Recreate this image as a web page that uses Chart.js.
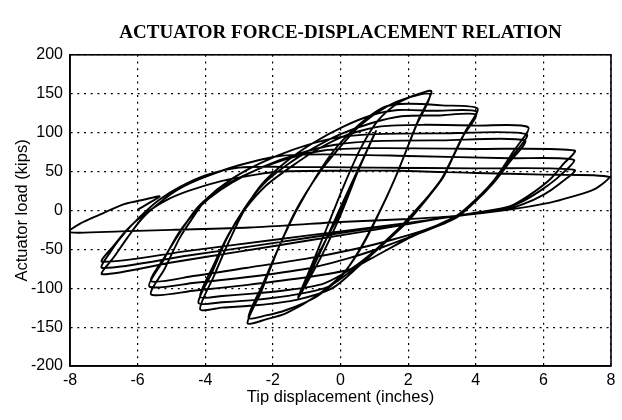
<!DOCTYPE html>
<html>
<head>
<meta charset="utf-8">
<script src="https://cdn.jsdelivr.net/npm/chart.js@4.4.1/dist/chart.umd.min.js"></script>
<style>
  html, body { margin: 0; padding: 0; background: #fff; }
</style>
</head>
<body>
<canvas id="hystChart" width="622" height="420"></canvas>
<script>
// tick labels
const xTicks = [-8, -6, -4, -2, 0, 2, 4, 6, 8];
const yTicks = [-200, -150, -100, -50, 0, 50, 100, 150, 200];

// [tip displacement (in), actuator load (kips)], in load order
const elasticCycles = [
  [0, 0], [0.5, 49], [1.0, 98],
  [0.6, 60], [0, 4], [-0.6, -54], [-1.2, -108],
  [-0.7, -60], [0, -2], [0.6, 60], [1.05, 102],
  [0.55, 54], [0, -6], [-0.6, -62], [-1.25, -112]
];

const cycles27 = [
  [-0.85, -70], [-0.4, -22], [0.1, 32], [0.6, 80], [1.1, 115], [1.7, 138], [2.2, 148], [2.69, 153],
  [2.3, 116], [1.65, 45], [1.06, -11], [0.56, -52], [0.06, -82], [-0.72, -110], [-1.6, -132], [-2.2, -140], [-2.75, -145],
  [-2.35, -105], [-1.85, -50], [-1.31, 1], [-0.6, 50], [0, 82], [0.6, 110], [1.35, 133], [2.0, 145], [2.65, 149],
  [2.25, 110], [1.6, 40], [1.0, -15], [0.5, -55], [0, -86], [-0.75, -112], [-1.6, -128], [-2.2, -135], [-2.72, -138]
];

const cycles4 = [
  [-2.3, -95], [-1.8, -45], [-1.3, 0], [-0.7, 45], [-0.1, 82], [0.6, 112], [1.3, 133], [2.0, 137], [3.0, 135], [4.05, 131],
  [3.7, 102], [3.3, 66], [3.03, 42], [2.5, 12], [1.95, -16], [1.2, -46], [0.56, -71], [-0.24, -100], [-1.3, -115], [-2.5, -122], [-3.5, -125], [-4.15, -127],
  [-3.75, -85], [-3.3, -40], [-2.85, 0], [-2.3, 35], [-1.6, 63], [-0.8, 87], [0.1, 108], [0.9, 122], [1.7, 129], [2.8, 128], [4.02, 127],
  [3.65, 98], [3.25, 62], [2.95, 38], [2.4, 8], [1.85, -20], [1.1, -50], [0.45, -73], [-0.35, -98], [-1.3, -108], [-2.5, -115], [-3.5, -118], [-4.2, -119],
  [-3.8, -80], [-3.35, -35], [-2.85, 2], [-2.3, 33], [-1.6, 58], [-0.8, 80], [0, 98], [0.9, 112], [1.8, 121], [2.9, 122], [4.0, 123],
  [3.6, 94], [3.2, 58], [2.9, 34], [2.3, 4], [1.75, -22], [1.0, -52], [0.35, -74], [-0.5, -94], [-1.5, -102], [-2.6, -107], [-3.5, -110], [-4.15, -111]
];

const cycles55 = [
  [-3.75, -70], [-3.3, -30], [-2.8, 3], [-2.2, 32], [-1.5, 55], [-0.7, 78], [0.2, 97], [1.2, 108], [2.5, 110], [4.0, 109], [5.55, 107],
  [5.1, 75], [4.56, 40], [4.0, 14], [3.43, -7], [2.05, -35], [0.9, -62], [0.27, -76], [-1.0, -86], [-2.8, -96], [-4.3, -103], [-5.6, -108],
  [-5.2, -75], [-4.75, -35], [-4.3, -5], [-3.98, 14], [-3.3, 38], [-2.4, 60], [-1.4, 78], [-0.3, 92], [1.0, 98], [3.0, 99], [5.5, 98],
  [5.05, 68], [4.55, 38], [4.05, 14], [3.4, -10], [2.3, -30], [1.2, -48], [0.2, -62], [-1.0, -75], [-2.8, -86], [-4.3, -93], [-5.65, -98],
  [-5.25, -65], [-4.8, -30], [-4.3, -2], [-3.9, 15], [-3.2, 36], [-2.3, 56], [-1.3, 72], [-0.2, 84], [1.0, 89], [3.0, 90], [5.45, 90],
  [5.0, 62], [4.5, 34], [4.0, 12], [3.35, -10], [2.5, -25], [1.5, -38], [0.4, -50], [-1.0, -62], [-2.8, -74], [-4.3, -84], [-5.6, -91]
];

const cycles7 = [
  [-5.2, -60], [-4.7, -25], [-4.2, 5], [-3.5, 30], [-2.6, 50], [-1.6, 66], [-0.5, 77], [1.0, 80], [4.0, 79], [6.92, 77],
  [6.6, 60], [6.2, 40], [5.6, 20], [5.0, 5], [4.0, -3], [3.0, -10], [1.0, -25], [-1.0, -39], [-3.0, -53], [-5.0, -67], [-7.05, -82],
  [-6.7, -60], [-6.3, -35], [-5.9, -12], [-5.35, 10], [-4.76, 28], [-4.0, 43], [-3.0, 58], [-1.8, 70], [-0.5, 72], [2.0, 70], [5.0, 67], [6.9, 65],
  [6.5, 45], [6.0, 28], [5.4, 12], [4.8, 2], [3.5, -7], [2.0, -16], [0, -29], [-2.0, -42], [-4.5, -58], [-7.05, -74],
  [-6.75, -50], [-6.4, -30], [-5.95, -9], [-5.35, 14], [-4.76, 30], [-4.0, 45], [-3.0, 55], [-1.8, 56], [1.0, 55], [4.0, 54], [6.92, 52],
  [6.5, 35], [6.0, 20], [5.4, 8], [4.8, 0], [3.5, -7], [2.0, -16], [0, -27], [-2.0, -38], [-4.5, -52], [-7.05, -66]
];

const cycles8 = [
  [-6.7, -45], [-6.3, -24], [-5.8, -5], [-5.2, 12], [-4.5, 25], [-3.5, 38], [-2.5, 46], [-1.8, 50], [0, 51], [1.75, 51], [4.0, 48], [6.0, 46], [7.95, 43],
  [7.5, 27], [6.8, 17], [6.2, 10], [5.0, 1], [3.43, -7], [2.0, -11], [0, -15], [-2.7, -22], [-5.0, -25], [-6.5, -27], [-8.05, -28],
  [-7.7, -17], [-7.2, -7], [-6.4, 8], [-5.8, 14], [-5.35, 18], [-6.0, 1]
];

const points = [...elasticCycles, ...cycles27, ...cycles4, ...cycles55, ...cycles7, ...cycles8]
  .map(p => ({ x: p[0], y: p[1] }));

const sans = '"Liberation Sans", Arial, Helvetica, sans-serif';

const frameBox = {
  id: 'frameBox',
  afterDraw(chart) {
    const { ctx, chartArea: a } = chart;
    ctx.save();
    ctx.strokeStyle = '#000';
    ctx.lineWidth = 1.6;
    ctx.strokeRect(a.left, a.top, a.right - a.left, a.bottom - a.top);
    ctx.restore();
  }
};

const ctx = document.getElementById('hystChart').getContext('2d');
new Chart(ctx, {
  type: 'scatter',
  data: {
    datasets: [{
      label: 'Actuator load',
      data: points,
      showLine: true,
      borderColor: '#000',
      borderWidth: 1.9,
      pointRadius: 0,
      tension: 0.25,
      fill: false
    }]
  },
  options: {
    responsive: false,
    animation: false,
    layout: { padding: { top: 0, right: 11, bottom: 0, left: 0 } },
    plugins: {
      legend: { display: false },
      tooltip: { enabled: false },
      title: {
        display: true,
        fullSize: false,
        text: 'ACTUATOR FORCE-DISPLACEMENT RELATION',
        color: '#000',
        font: { family: '"Liberation Serif", "Times New Roman", serif', size: 19, weight: 'bold' },
        padding: { top: 22, bottom: 10 }
      }
    },
    scales: {
      x: {
        type: 'linear',
        min: -8,
        max: 8,
        afterBuildTicks: s => { s.ticks = xTicks.map(v => ({ value: v })); },
        afterFit: s => { s.height = 54; },
        grid: { color: '#000', lineWidth: 1.2, drawTicks: false },
        border: { display: true, color: '#000', width: 1.6, dash: [2, 4.7] },
        ticks: { color: '#000', font: { family: sans, size: 16 }, padding: 5, maxRotation: 0 },
        title: { display: true, text: 'Tip displacement (inches)', color: '#000', font: { family: sans, size: 16.5 }, padding: { bottom: 13 } }
      },
      y: {
        type: 'linear',
        min: -200,
        max: 200,
        afterBuildTicks: s => { s.ticks = yTicks.map(v => ({ value: v })); },
        afterFit: s => { s.width = 70; },
        grid: { color: '#000', lineWidth: 1.2, drawTicks: false },
        border: { display: true, color: '#000', width: 1.6, dash: [2, 4.7] },
        ticks: { color: '#000', font: { family: sans, size: 16 }, padding: 7 },
        title: { display: true, text: 'Actuator load (kips)', color: '#000', font: { family: sans, size: 16.5 }, padding: { top: 13 } }
      }
    }
  },
  plugins: [frameBox]
});
</script>
</body>
</html>
